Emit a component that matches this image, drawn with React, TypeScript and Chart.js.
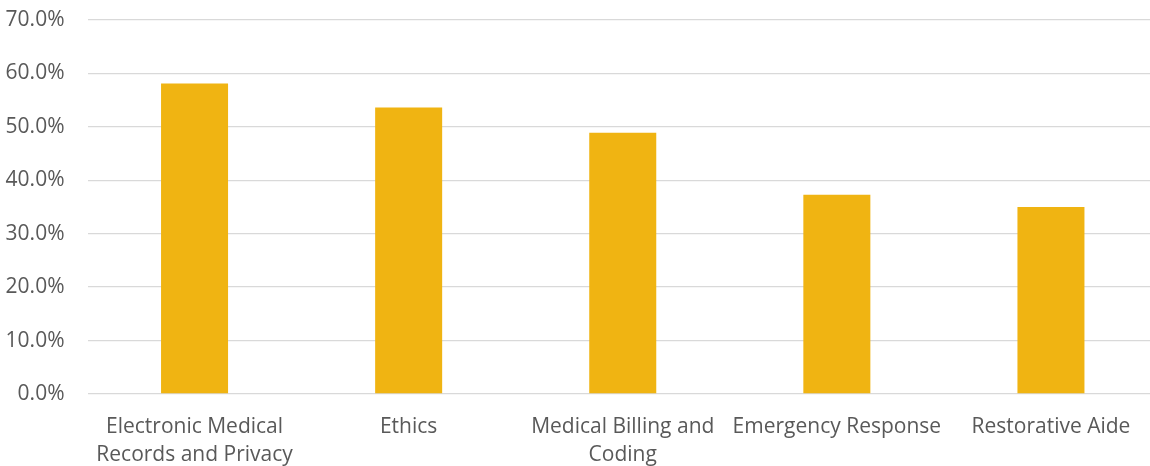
import React, { useEffect, useRef } from "react";
import { Chart, registerables } from "chart.js";

Chart.register(...registerables);

const categories: string[][] = [
  ["Electronic Medical", "Records and Privacy"],
  ["Ethics"],
  ["Medical Billing and", "Coding"],
  ["Emergency Response"],
  ["Restorative Aide"],
];
const values: number[] = [58.1, 53.6, 48.9, 37.3, 35.0];
const yTicks: number[] = [0, 10, 20, 30, 40, 50, 60, 70];

export default function App() {
  const ref = useRef<HTMLCanvasElement | null>(null);
  useEffect(() => {
    if (!ref.current) return;
    const chart = new Chart(ref.current, {
      type: "bar",
      data: {
        labels: categories,
        datasets: [
          {
            data: values,
            backgroundColor: "#F0B412",
            borderWidth: 0,
            barPercentage: 0.313,
            categoryPercentage: 1,
          },
        ],
      },
      options: {
        responsive: false,
        animation: false,
        layout: { padding: { top: 20, left: 0, right: 0, bottom: 0 } },
        plugins: { legend: { display: false }, tooltip: { enabled: false } },
        scales: {
          x: {
            grid: { display: false },
            border: { display: false },
            ticks: {
              color: "#595959",
              font: { family: "Open Sans", size: 21, lineHeight: 1.33 },
              padding: 11,
              maxRotation: 0,
              autoSkip: false,
            },
            afterFit: (s: any) => {
              s.height = 72;
              s.paddingLeft = 0;
              s.paddingRight = 0;
            },
          },
          y: {
            min: 0,
            max: 70,
            afterBuildTicks: (s: any) => {
              s.ticks = yTicks.map((v) => ({ value: v }));
            },
            grid: { color: "#D9D9D9", lineWidth: 1.3, drawTicks: false },
            border: { display: false },
            ticks: {
              color: "#595959",
              font: { family: "Open Sans", size: 21 },
              padding: 23,
              callback: (v: any) => Number(v).toFixed(1) + "%",
            },
            afterFit: (s: any) => {
              s.width = 87.5;
              s.paddingTop = 0;
              s.paddingBottom = 0;
            },
          },
        },
      },
    });
    return () => chart.destroy();
  }, []);
  return (
    <div style={{ position: "absolute", left: 0, top: 0, width: 1150, height: 466, overflow: "hidden", background: "#fff" }}>
      <canvas ref={ref} width={1158} height={466} style={{ width: 1158, height: 466, display: "block" }} />
    </div>
  );
}
